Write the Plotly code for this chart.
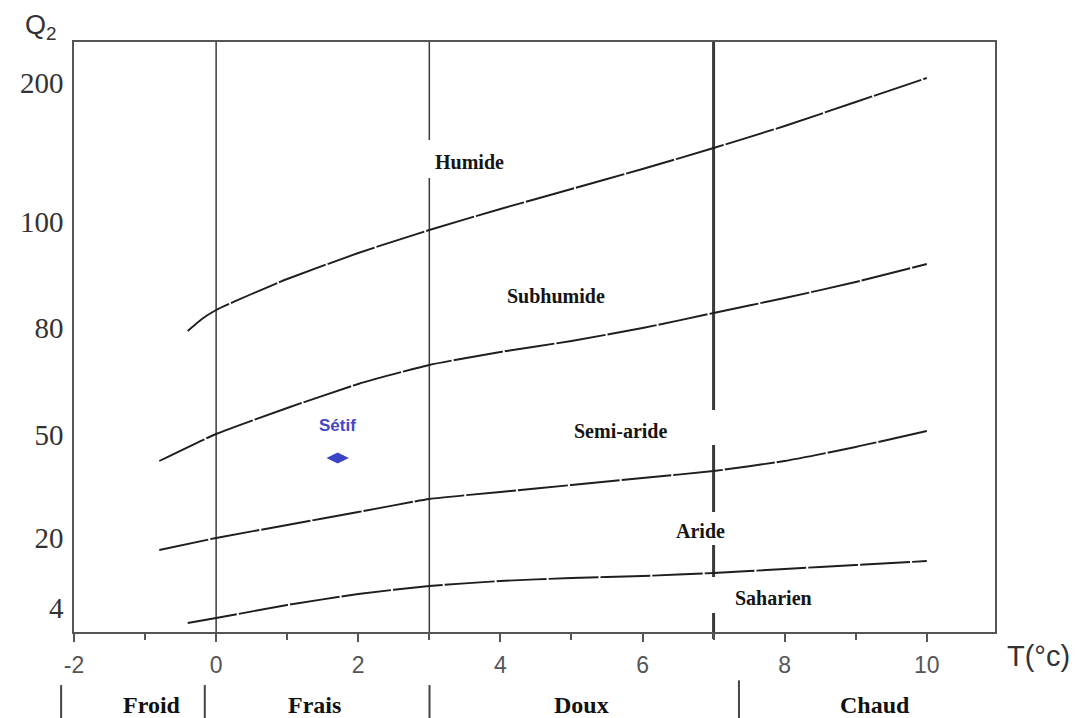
import plotly.graph_objects as go

# ---------------- data ----------------
# Emberger limits: T (m, °C) vs Q2 (plotted on the chart's own Q2 scale units)
humide_T = [-0.4, -0.2, 0, 0.5, 1, 2, 3, 4, 5, 6, 7, 8, 9, 10]
humide_Q = [301, 313, 322, 338, 353, 379, 402, 423, 443, 463, 484, 506, 530, 554]

subhumide_T = [-0.8, 0, 1, 2, 3, 4, 5, 6, 7, 8, 9, 10]
subhumide_Q = [171, 198, 224, 248, 267, 280, 291, 304, 319, 334, 350, 368]

semiaride_T = [-0.8, 0, 1, 2, 3, 4, 5, 6, 7, 8, 9, 10]
semiaride_Q = [82, 94, 107, 120, 133, 140, 147, 154, 161, 171, 185, 201]

aride_T = [-0.4, 0, 1, 2, 3, 4, 5, 6, 7, 8, 9, 10]
aride_Q = [9, 14, 27, 38, 46, 51, 54, 56, 59, 63, 67, 71]

station_name = ["Sétif"]
station_T = [1.71]
station_Q = [174]

q2_tick_pos = [24, 94, 197, 304, 410, 549]
q2_tick_labels = ["4", "20", "50", "80", "100", "200"]

t_tick_vals = [-2, 0, 2, 4, 6, 8, 10]
t_tick_labels = ["-2", "0", "2", "4", "6", "8", "10"]

winter_limits = [0, 3, 7]

zone_names = ["Humide", "Subhumide", "Semi-aride", "Aride", "Saharien"]
zone_T = [3.56, 4.78, 5.69, 6.82, 7.85]
zone_Q = [470, 336, 201, 101, 34]

winter_names = ["Froid", "Frais", "Doux", "Chaud"]

# ---------------- figure ----------------
fig = go.Figure()

curve_style = dict(color="#1e1e1e", width=1.9, dash="50px,2px", shape="spline", smoothing=0.5)
for tx, qy in [(humide_T, humide_Q), (subhumide_T, subhumide_Q),
               (semiaride_T, semiaride_Q), (aride_T, aride_Q)]:
    fig.add_trace(go.Scatter(x=tx, y=qy, mode="lines", line=curve_style,
                             hoverinfo="skip", showlegend=False))

fig.add_trace(go.Scatter(x=station_T, y=station_Q, mode="markers",
                         marker=dict(symbol="diamond-wide", size=16, color="#3c44c6"),
                         showlegend=False))

shapes = []
# vertical winter-variant limits
for v in winter_limits:
    w = 3 if v == 7 else 1.5
    shapes.append(dict(type="line", xref="x", yref="paper", x0=v, x1=v,
                       y0=-0.012 if v == 7 else 0, y1=1,
                       line=dict(color="#3a3a3a", width=w), layer="below"))
# white label boxes that interrupt the vertical lines
boxes = [(2.54, 4.78, 454, 492), (4.49, 7.59, 187, 222),
         (6.03, 7.97, 87, 120), (6.80, 9.51, 19, 55)]
for x0, x1, y0, y1 in boxes:
    shapes.append(dict(type="rect", xref="x", yref="y", x0=x0, x1=x1, y0=y0, y1=y1,
                       fillcolor="white", line=dict(width=0), layer="below"))
# separators of the bottom band
for xp, y0 in [(-0.014, -0.09), (0.142, -0.09), (0.386, -0.09), (0.722, -0.082)]:
    shapes.append(dict(type="line", xref="paper", yref="paper", x0=xp, x1=xp,
                       y0=y0, y1=-0.146, line=dict(color="#444", width=2)))

annotations = []
for name, tx, qy in zip(zone_names, zone_T, zone_Q):
    annotations.append(dict(x=tx, y=qy, xref="x", yref="y", text="<b>%s</b>" % name,
                            showarrow=False, xanchor="center", yanchor="middle",
                            font=dict(family="Liberation Serif", size=20, color="#151515")))
for name, tx, qy in zip(station_name, station_T, station_Q):
    annotations.append(dict(x=tx, y=qy, xref="x", yref="y", text="<b>%s</b>" % name,
                            showarrow=False, yshift=33, xanchor="center", yanchor="middle",
                            font=dict(family="Liberation Sans", size=17, color="#4646c8")))
for name, xp in zip(winter_names, [0.085, 0.261, 0.551, 0.870]):
    annotations.append(dict(x=xp, y=-0.124, xref="paper", yref="paper",
                            text="<b>%s</b>" % name, showarrow=False,
                            xanchor="center", yanchor="middle",
                            font=dict(family="Liberation Serif", size=24, color="#111")))
annotations.append(dict(x=-0.036, y=1.026, xref="paper", yref="paper",
                        text="Q<sub>2</sub>", showarrow=False,
                        xanchor="center", yanchor="middle",
                        font=dict(family="Liberation Sans", size=27, color="#333")))
annotations.append(dict(x=1.047, y=-0.04, xref="paper", yref="paper",
                        text="T(°c)", showarrow=False,
                        xanchor="center", yanchor="middle",
                        font=dict(family="Liberation Sans", size=29, color="#333")))

# the page body adds an 8px offset, so the figure is drawn 8px smaller
fig.update_layout(
    width=1075, height=710,
    margin=dict(l=63, r=88, t=34, b=86),
    paper_bgcolor="white", plot_bgcolor="white",
    shapes=shapes, annotations=annotations,
    xaxis=dict(range=[-2, 10.96], tickvals=t_tick_vals, ticktext=t_tick_labels,
               ticks="outside", ticklen=8,
               tickwidth=1.5, tickcolor="#555", showgrid=False, zeroline=False,
               showline=True, mirror=True, linecolor="#555", linewidth=1.5,
               ticklabelstandoff=4,
               tickfont=dict(family="Liberation Sans", size=23, color="#555"),
               minor=dict(dtick=1, tick0=-2, ticks="outside", ticklen=6,
                          tickwidth=1.5, tickcolor="#555", showgrid=False)),
    yaxis=dict(range=[0, 590], tickvals=q2_tick_pos, ticktext=q2_tick_labels,
               ticks="", showgrid=False, zeroline=False, showline=True, mirror=True,
               linecolor="#555", linewidth=1.5, ticklabelstandoff=3,
               tickfont=dict(family="Liberation Serif", size=29, color="#333")),
)

fig.write_html("out.html")
